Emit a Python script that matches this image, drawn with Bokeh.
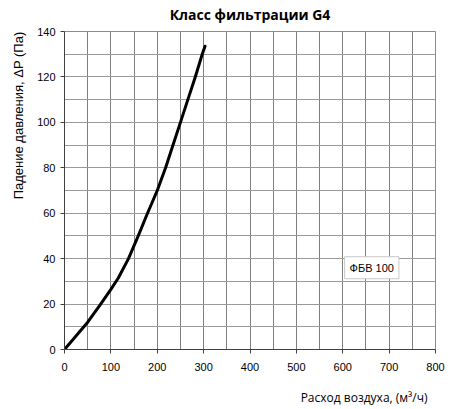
from bokeh.plotting import figure
from bokeh.models import Title, Label, SingleIntervalTicker, FixedTicker, Range1d
from bokeh.embed import file_html
from bokeh.resources import INLINE

# === Data ===
flow = [0, 50, 78, 100, 116, 138, 159, 179, 200, 218, 234, 250, 266, 282, 297, 303]
dp = [0, 12, 20, 26.5, 31.5, 40, 50, 60, 70, 80, 90, 100, 110, 120, 130, 133.5]

x_ticks = [0, 100, 200, 300, 400, 500, 600, 700, 800]
y_ticks = [0, 20, 40, 60, 80, 100, 120, 140]

TITLE = "Класс фильтрации G4"
X_LABEL = "Расход воздуха, (м³/ч)"
Y_LABEL = "Падение давления, ΔP (Па)"
SERIES = "ФБВ 100"
SERIES_POS = (604, 36)

GRID_V = "#7f7f7f"
GRID_H = "#9a9a9a"

p = figure(
    width=448, height=409,
    x_range=Range1d(0, 800), y_range=Range1d(0, 140),
    output_backend="svg", toolbar_location=None,
    min_border_left=63, min_border_right=13,
    min_border_top=31, min_border_bottom=60,
)
p.title = None


def spacer(px, gap):
    # blank title used only to push the real titles away from the frame
    return Title(text=" ", text_font_size=px, standoff=gap)


# ---------- Titles ----------
p.add_layout(spacer("6px", 0), "above")
t = Title(text=TITLE, align="center", offset=-36, standoff=0,
          text_font="Open Sans", text_font_size="14px", text_font_style="bold",
          text_color="#000000")
p.add_layout(t, "above")

yl = Title(text=Y_LABEL, align="right", standoff=17,
           text_font="Liberation Sans", text_font_size="13px",
           text_font_style="normal", text_color="#000000")
p.add_layout(yl, "left")

p.add_layout(spacer("8px", 2), "below")
xl = Title(text=X_LABEL, align="right", offset=8, standoff=0,
           text_font="Open Sans", text_font_size="12px",
           text_font_style="normal", text_color="#000000")
p.add_layout(xl, "below")

# ---------- Axes ----------
p.xaxis.ticker = FixedTicker(ticks=x_ticks)
p.yaxis.ticker = FixedTicker(ticks=y_ticks)
for ax in (p.xaxis[0], p.yaxis[0]):
    ax.axis_line_color = "#404040"
    ax.major_tick_line_color = "#404040"
    ax.major_tick_out = 4
    ax.major_tick_in = 0
    ax.minor_tick_line_color = None
    ax.major_label_text_font = "Liberation Sans"
    ax.major_label_text_font_size = "11px"
    ax.major_label_text_color = "#000000"
p.xaxis.major_label_standoff = 9
p.yaxis.major_label_standoff = 5

# ---------- Grid ----------
p.xgrid.ticker = SingleIntervalTicker(interval=50)
p.ygrid.ticker = SingleIntervalTicker(interval=10)
p.xgrid.grid_line_color = GRID_V
p.ygrid.grid_line_color = GRID_H
p.outline_line_color = "#8c8c8c"

# ---------- Curve ----------
p.line(flow, dp, line_color="#000000", line_width=3, line_cap="round",
       line_join="round")

lab = Label(x=SERIES_POS[0], y=SERIES_POS[1], text=SERIES,
            text_font="Liberation Sans", text_font_size="11px",
            text_baseline="middle", text_color="#000000",
            background_fill_color="#ffffff",
            border_line_color="#c8c8c8", padding=5)
p.add_layout(lab)

open("out.html", "w").write(file_html(p, INLINE))
